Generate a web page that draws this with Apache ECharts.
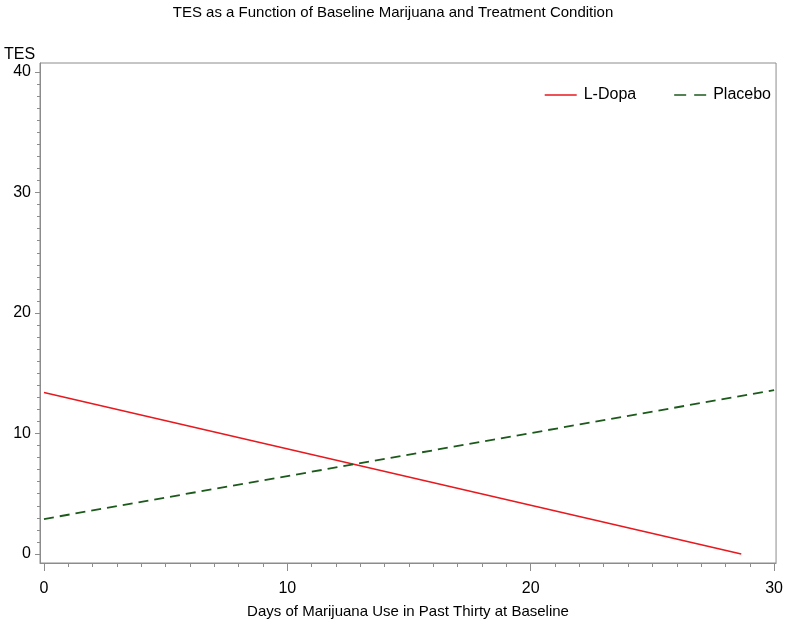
<!DOCTYPE html>
<html>
<head>
<meta charset="utf-8">
<script src="https://cdn.jsdelivr.net/npm/echarts@6/dist/echarts.min.js"></script>
<style>
  html, body { margin: 0; padding: 0; background: #fff; }
</style>
</head>
<body>
<div id="main" style="width: 786px; height: 629px"></div>
<script>
// fitted lines
const seriesNames = ["L-Dopa", "Placebo"];
const ldopaPoints = [[0, 13.4], [28.65, 0]];
const placeboPoints = [[0, 2.9], [30, 13.6]];
const xMajorTicks = [0, 10, 20, 30];
const yMajorTicks = [0, 10, 20, 30, 40];
const xMinorTicks = [];
for (let i = 0; i <= 30; i++) xMinorTicks.push(i);
const yMinorTicks = [];
for (let i = 0; i <= 40; i++) yMinorTicks.push(i);

const font = "Liberation Sans";
const axisGray = "#8c8c8c";
const red = "#e8191e";
const green = "#1c5a1c";

var myChart = echarts.init(document.getElementById("main"));
const option = {
  animation: false,
  textStyle: { fontFamily: font },
  title: [
    {
      text: "TES as a Function of Baseline Marijuana and Treatment Condition",
      left: "center",
      top: 0,
      textStyle: { fontSize: 15, fontWeight: "normal", color: "#000", fontFamily: font },
    },
    {
      text: "TES",
      left: -1,
      top: 42,
      textStyle: { fontSize: 16, fontWeight: "normal", color: "#000", fontFamily: font },
    },
  ],
  legend: {
    right: 10,
    top: 82,
    itemWidth: 32,
    itemHeight: 2,
    itemGap: 38,
    textStyle: { fontSize: 16, color: "#000", fontFamily: font, padding: [0, 0, 0, 2] },
    data: [
      { name: seriesNames[0], icon: "path://M0,0h32v1.6h-32z", itemStyle: { color: red } },
      { name: seriesNames[1], icon: "path://M0,0h12v1.6h-12z M20,0h12v1.6h-12z", itemStyle: { color: green } },
    ],
  },
  grid: {
    left: 40,
    top: 63,
    width: 740,
    height: 500,
    show: true,
    borderColor: axisGray,
    borderWidth: 1,
  },
  xAxis: [
    {
      type: "value",
      min: -0.163,
      max: 30.08,
      splitLine: { show: false },
      axisLine: { onZero: false, lineStyle: { color: axisGray } },
      axisTick: { customValues: xMajorTicks, length: 8, lineStyle: { color: axisGray } },
      axisLabel: { customValues: xMajorTicks, fontSize: 16, color: "#000", margin: 18 },
      name: "Days of Marijuana Use in Past Thirty at Baseline",
      nameLocation: "middle",
      nameGap: 41,
      nameTextStyle: { fontSize: 15, color: "#000" },
    },
    {
      type: "value",
      min: -0.163,
      max: 30.08,
      position: "bottom",
      splitLine: { show: false },
      axisLine: { show: false, onZero: false },
      axisTick: { customValues: xMinorTicks, length: 4, lineStyle: { color: axisGray } },
      axisLabel: { show: false },
    },
  ],
  yAxis: [
    {
      type: "value",
      min: -0.75,
      max: 40.75,
      splitLine: { show: false },
      axisLine: { show: true, onZero: false, lineStyle: { color: axisGray } },
      axisTick: { show: true, customValues: yMajorTicks, length: 5, lineStyle: { color: axisGray } },
      axisLabel: { customValues: yMajorTicks, fontSize: 16, color: "#000", margin: 9 },
    },
    {
      type: "value",
      min: -0.75,
      max: 40.75,
      position: "left",
      splitLine: { show: false },
      axisLine: { show: false, onZero: false },
      axisTick: { show: true, customValues: yMinorTicks, length: 3, lineStyle: { color: axisGray } },
      axisLabel: { show: false },
    },
  ],
  series: [
    {
      name: seriesNames[0],
      type: "line",
      showSymbol: false,
      symbol: "none",
      data: ldopaPoints,
      lineStyle: { color: red, width: 1.5 },
      itemStyle: { color: red },
    },
    {
      name: seriesNames[1],
      type: "line",
      showSymbol: false,
      symbol: "none",
      data: placeboPoints,
      lineStyle: { color: green, width: 1.8, type: [10, 6] },
      itemStyle: { color: green },
    },
  ],
};
option && myChart.setOption(option);
</script>
</body>
</html>
